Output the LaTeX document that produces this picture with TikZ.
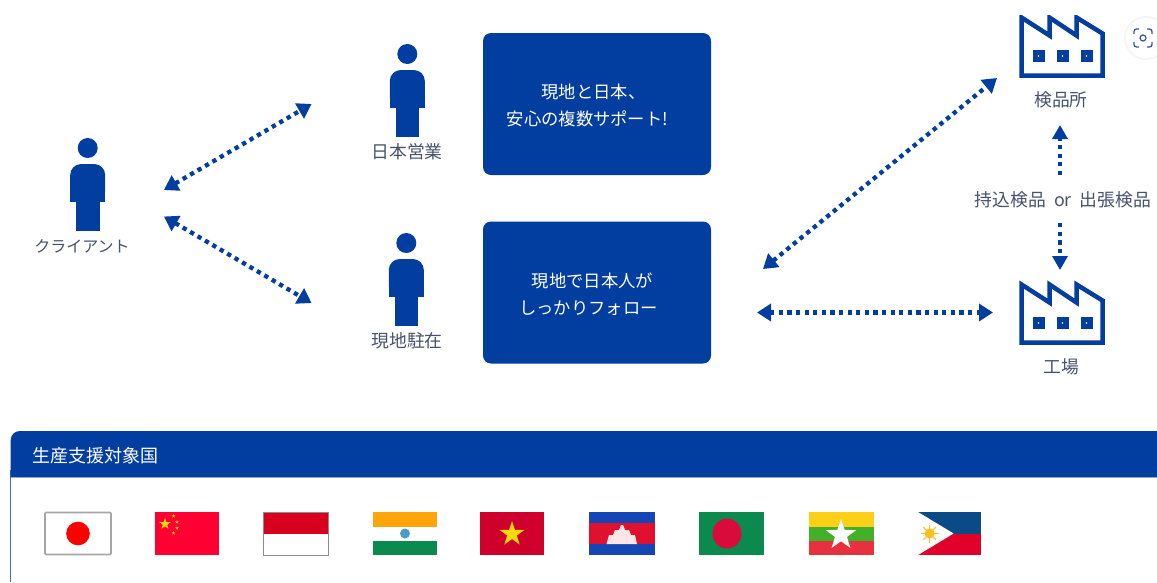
\documentclass[tikz,border=0pt]{standalone}
\usepackage{fontspec}
\setmainfont{Noto Sans CJK JP}
\usetikzlibrary{arrows.meta}
\definecolor{mainblue}{HTML}{023DA0}
\definecolor{labelgray}{HTML}{47536E}
\definecolor{flaggreen}{HTML}{0A8A4F}
\definecolor{cnred}{HTML}{FF0033}
\definecolor{idred}{HTML}{D8001E}
\definecolor{inorange}{HTML}{FFA50A}
\definecolor{inblue}{HTML}{4A9CC8}
\definecolor{vnred}{HTML}{D0002C}
\definecolor{vnyellow}{HTML}{FFD60A}
\definecolor{khblue}{HTML}{1447B5}
\definecolor{khred}{HTML}{E0102F}
\definecolor{bdred}{HTML}{D80B3A}
\definecolor{mmyellow}{HTML}{FDD017}
\definecolor{mmgreen}{HTML}{43B02A}
\definecolor{mmred}{HTML}{E8313F}
\definecolor{phblue}{HTML}{0A4A86}
\definecolor{phred}{HTML}{E0002A}
\definecolor{phsun}{HTML}{FFBE1E}
\definecolor{capicon}{HTML}{3B5A8A}
\tikzset{
  lbl/.style={text=labelgray,font=\fontsize{17.8}{20}\selectfont,inner sep=0pt},
  boxtext/.style={text=white,font=\fontsize{17.3}{27}\selectfont,align=center,inner sep=0pt},
  bluebox/.style={fill=mainblue,rounded corners=8pt},
  link/.style={draw=mainblue,line width=4.3pt,dash pattern=on 4.3pt off 4.3pt,{Triangle[length=14pt,width=17pt]}-{Triangle[length=14pt,width=17pt]}},
  oneway/.style={draw=mainblue,line width=4.3pt,dash pattern=on 4.3pt off 4.3pt,-{Triangle[length=14pt,width=15pt]}},
  factoryline/.style={draw=mainblue,line width=4.5pt,line join=miter,fill=white}
}
% person: head centre at #1,#2
\newcommand{\personicon}[2]{%
  \begin{scope}[shift={(#1,#2)}]
    \fill[mainblue] (0,0) circle[radius=10];
    \fill[mainblue,rounded corners=11pt] (-17.5,54) -- (-17.5,16) -- (17.5,16) -- (17.5,54) -- cycle;
    \fill[mainblue] (-17.5,40) rectangle (17.5,54);
    \fill[mainblue] (-11.8,50) rectangle (11.8,83);
  \end{scope}}
% factory: origin is the first peak
\newcommand{\factoryicon}[2]{%
  \begin{scope}[shift={(#1,#2)}]
    \path[factoryline] (0,0) -- (28,18) -- (28,0) -- (55,18) -- (55,0) -- (81,16) -- (81,58) -- (0,58) -- cycle;
    \foreach \wx in {11,35,59}{
      \fill[mainblue] (\wx,32.5) rectangle ++(12,12);
      \fill[white] (\wx+6,38.5) circle[radius=.8];
    }
  \end{scope}}
\newcommand{\fstar}[4]{%
  \begin{scope}[shift={(#1,#2)}]
    \fill[#4] (-90:#3) -- (-54:{#3*.39}) -- (-18:#3) -- (18:{#3*.39}) -- (54:#3) -- (90:{#3*.39}) -- (126:#3) -- (162:{#3*.39}) -- (198:#3) -- (234:{#3*.39}) -- cycle;
  \end{scope}}
\begin{document}
\begin{tikzpicture}[x=1pt,y=-1pt]
\useasboundingbox (0,0) rectangle (1157,582);
\fill[white] (0,0) rectangle (1157,582);

% people
\personicon{87.7}{148}
\personicon{407.3}{54}
\personicon{406.3}{243}
\node[lbl,font=\fontsize{16}{20}\selectfont] (client) at (82,246) {クライアント};
\node[lbl] (japansales) at (407,152) {日本営業};
\node[lbl] (localstaff) at (407,341) {現地駐在};

% boxes
\node[bluebox,minimum width=228pt,minimum height=142pt,inner sep=0pt] (box1) at (597,104) {};
\node[bluebox,minimum width=228pt,minimum height=142pt,inner sep=0pt] (box2) at (597,292.5) {};
\node[boxtext] (box1text) at (587.5,105) {\hspace*{12pt}現地と日本、\\安心の複数サポート!};
\node[boxtext] (box2text) at (588.5,294.5) {\hspace*{8pt}現地で日本人が\\しっかりフォロー};

% factories
\factoryicon{1021.5}{17.5}
\fill[white] (1010,0) rectangle (1115,15);
\factoryicon{1021.5}{284.5}
\node[lbl] (inspect) at (1061,100) {検品所};
\node[lbl] (factory) at (1061,367) {工場};
\node[lbl] (mode) at (1063,200) {\spaceskip=8pt 持込検品 or 出張検品};

% screen-capture button
\fill[black!4] (1146,38) circle[radius=22];
\fill[white] (1146,38) circle[radius=20];
\begin{scope}[draw=capicon,line width=1.3pt,rounded corners=2.5pt]
  \draw (1134,34) -- (1134,29) -- (1139,29);
  \draw (1147,29) -- (1152,29) -- (1152,34);
  \draw (1134,42) -- (1134,47) -- (1139,47);
  \draw (1147,47) -- (1152,47) -- (1152,42);
\end{scope}
\draw[capicon,line width=1.2pt] (1143,38) circle[radius=3];

% connector ends
\coordinate (c1a) at (164,190);
\coordinate (c1b) at (311.6,104);
\coordinate (c2a) at (164,216.5);
\coordinate (c2b) at (311.6,303);
\coordinate (c3a) at (763,269);
\coordinate (c3b) at (997,78);
\coordinate (c4a) at (757,312.5);
\coordinate (c4b) at (993,312.5);
\coordinate (c5a) at (1060,175);
\coordinate (c5b) at (1060,125);
\coordinate (c6a) at (1060,223);
\coordinate (c6b) at (1060,270);
\draw[link] (c1a) -- (c1b);
\draw[link] (c2a) -- (c2b);
\draw[link] (c3a) -- (c3b);
\draw[link] (c4a) -- (c4b);
\draw[oneway] (c5a) -- (c5b);
\draw[oneway] (c6a) -- (c6b);

% panel
\draw[mainblue!75,line width=.8pt] (10.7,470) -- (10.7,582);
\fill[mainblue,rounded corners=9pt] (10.7,477) -- (10.7,431) -- (1180,431) -- (1180,477) [sharp corners] -- cycle;
\fill[mainblue] (10.7,460) rectangle (1157,477);
\draw[mainblue!45,line width=.8pt] (10.7,477) -- (1157,477);
\node[text=white,font=\fontsize{18}{20}\selectfont,inner sep=0pt,anchor=west] (paneltitle) at (32,456) {生産支援対象国};

% Japan
\draw[black!35,fill=white,line width=1.6pt,rounded corners=1pt] (45,512.5) rectangle (111,554.5);
\fill[red] (78,533.5) circle[radius=11.8];
% China
\fill[cnred] (155,512) rectangle (219,555);
\fstar{165}{524}{6}{vnyellow}
\foreach \sx/\sy in {173.5/516,177/522,177/528,173.5/533}{\fstar{\sx}{\sy}{2}{vnyellow}}
% Indonesia
\fill[white] (263,512) rectangle (328,555);
\fill[idred] (263,512) rectangle (328,533.5);
\draw[black!45,line width=.9pt] (263,512) rectangle (328,555);
% India
\fill[inorange] (373,512) rectangle (437,526.5);
\fill[flaggreen] (373,541) rectangle (437,555);
\fill[inblue] (405,533.5) circle[radius=5];
% Vietnam
\fill[vnred] (480,512) rectangle (544,555);
\fstar{512}{534}{13}{vnyellow}
% Cambodia
\fill[khblue] (589,512) rectangle (655,555);
\fill[khred] (589,522.5) rectangle (655,544);
\fill[white!90!red] (606.5,544) -- (609,535) -- (613,535) -- (615,530) -- (619,530) -- (621,525) -- (623,525) -- (625,530) -- (629,530) -- (631,535) -- (635,535) -- (637,544) -- cycle;
% Bangladesh
\fill[flaggreen] (698.5,512) rectangle (763.7,555);
\fill[bdred] (727,533.5) ellipse[x radius=14.5,y radius=15];
% Myanmar
\fill[mmyellow] (808.6,512) rectangle (873.7,526.5);
\fill[mmgreen] (808.6,526.5) rectangle (873.7,541);
\fill[mmred] (808.6,541) rectangle (873.7,555);
\fstar{841}{535}{16}{white}
% Philippines
\fill[phblue] (918,512) rectangle (981,533.5);
\fill[phred] (918,533.5) rectangle (981,555);
\fill[white] (918,512) -- (953.6,533.5) -- (918,555) -- cycle;
\fill[phsun] (929.6,533.5) circle[radius=5];
\foreach \ra in {0,45,...,315}{\draw[phsun,line width=1.2pt] (929.6,533.5) -- ++(\ra:9);}
\end{tikzpicture}
\end{document}
